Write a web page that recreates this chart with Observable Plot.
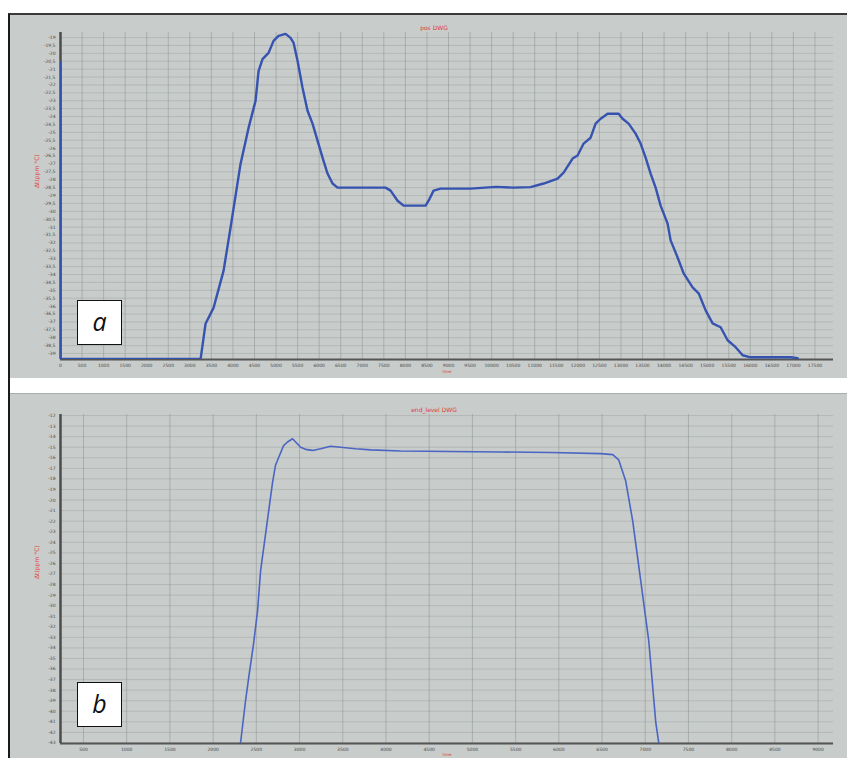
<!DOCTYPE html>
<html><head><meta charset="utf-8">
<script src="https://cdn.jsdelivr.net/npm/d3@7"></script>
<script src="https://cdn.jsdelivr.net/npm/@observablehq/plot@0.6"></script>
<style>
body{margin:0;background:#fff;width:847px;height:758px;position:relative;overflow:hidden;font-family:"DejaVu Sans",sans-serif}
#frame{position:absolute;left:8px;top:13px;width:839px;height:745px;border-left:2px solid #1a1a1a;border-top:2px solid #3a3a3a;box-sizing:border-box}
.panel{position:absolute;left:10px;width:837px;background:#c8cccb;box-sizing:border-box}
.panel svg{display:block}
#pa{top:15px;height:363px}
#pb{top:393px;height:365px;border-top:1px solid #a9adad}
.lbl{position:absolute;left:77px;width:45px;height:45px;background:#fff;border:1px solid #111;box-sizing:border-box;font:italic 25px "Open Sans",sans-serif;text-align:center;line-height:40px;color:#111}
</style></head>
<body>
<div id="frame"></div>
<div class="panel" id="pa"></div>
<div class="panel" id="pb"></div>
<div class="lbl" style="top:300px">a</div>
<div class="lbl" style="top:682px">b</div>
<script>
// ---- texts ----
const titleA = "pos DWG";
const titleB = "end_level DWG";
const yTitle = "Δt(ppm °C)";
const xTitle = "time";
const labelA = "a", labelB = "b";

// ---- panel a data ----
const topX = [0, 0, 3250, 3364, 3550, 3782, 3944, 4176, 4362, 4524, 4594, 4686, 4826, 4942, 5058, 5220, 5336, 5406, 5498, 5614, 5730, 5846, 5962, 6078, 6194, 6310, 6426, 7540, 7656, 7818, 7958, 8468, 8538, 8654, 8816, 9512, 10100, 10500, 10904, 11206, 11530, 11670, 11878, 11994, 12134, 12296, 12412, 12528, 12690, 12946, 13038, 13178, 13340, 13456, 13572, 13688, 13804, 13920, 14082, 14152, 14314, 14454, 14662, 14802, 14964, 15126, 15312, 15474, 15660, 15822, 16008, 16936, 17098];
const topY = [-20.58, -39.35, -39.35, -37.12, -36.11, -33.77, -31.04, -27.0, -24.72, -23.01, -21.12, -20.36, -19.97, -19.21, -18.89, -18.77, -19.02, -19.33, -20.47, -22.18, -23.63, -24.45, -25.53, -26.6, -27.61, -28.24, -28.5, -28.5, -28.69, -29.33, -29.64, -29.64, -29.33, -28.69, -28.56, -28.56, -28.45, -28.5, -28.47, -28.24, -27.93, -27.55, -26.66, -26.47, -25.71, -25.34, -24.45, -24.14, -23.82, -23.82, -24.14, -24.45, -25.08, -25.71, -26.6, -27.61, -28.5, -29.64, -30.78, -31.84, -32.92, -33.93, -34.81, -35.19, -36.27, -37.09, -37.34, -38.16, -38.6, -39.11, -39.24, -39.24, -39.3];
const topXTicks = d3.range(0, 17501, 500);
const topYTicks = d3.range(-39, -18.99, 0.5);
const topXDomain = [0, 17930];
const topYDomain = [-39.38, -18.68];

// ---- panel b data ----
const botX = [2317, 2375, 2410, 2468, 2514, 2549, 2630, 2688, 2722, 2757, 2815, 2861, 2919, 2977, 3012, 3070, 3151, 3244, 3359, 3475, 3649, 3823, 4170, 4749, 5327, 5906, 6485, 6624, 6693, 6774, 6855, 6947, 7040, 7121, 7156];
const botY = [-43, -39, -36.9, -33.6, -30.5, -26.7, -21.8, -18.3, -16.7, -16.0, -14.85, -14.5, -14.2, -14.7, -15.0, -15.2, -15.3, -15.15, -14.9, -15.0, -15.15, -15.25, -15.35, -15.4, -15.45, -15.5, -15.6, -15.7, -16.2, -18.2, -22.0, -27.6, -33.3, -41, -43];
const botXTicks = d3.range(500, 9001, 500);
const botYTicks = d3.range(-43, -11.99, 1);
const botXDomain = [234, 9178];
const botYDomain = [-43.05, -11.9];

const fmtComma = d => Number.isInteger(d) ? String(d) : String(d).replace(".", ",");

function panel({xs, ys, xTicks, yTicks, xDomain, yDomain, title, height, mt, mb, lineColor, lineWidth, yFmt, titleDy, yTitleDy, xTitleDy}) {
  const data = xs.map((x, i) => ({x, y: ys[i]}));
  return Plot.plot({
    width: 837, height,
    marginLeft: 50, marginRight: 14, marginTop: mt, marginBottom: mb,
    style: {background: "transparent", fontFamily: "DejaVu Sans", fontSize: "4.5px", color: "#4a4a4a"},
    x: {domain: xDomain, axis: null},
    y: {domain: yDomain, axis: null},
    marks: [
      Plot.gridX(xTicks, {stroke: "#8f9595", strokeOpacity: 0.55, strokeWidth: 1}),
      Plot.gridY(yTicks, {stroke: "#8f9595", strokeOpacity: 0.35, strokeWidth: 1}),
      Plot.axisX(xTicks, {label: null, tickSize: 0, tickPadding: 4, tickFormat: d => String(d), fontSize: 4.5, fill: "#4a4a4a"}),
      Plot.axisY(yTicks, {label: null, tickSize: 0, tickPadding: 5, tickFormat: yFmt, fontSize: 4.5, fill: "#4a4a4a"}),
      Plot.ruleX([xDomain[0]], {stroke: "#4d4d4d", strokeWidth: 2.5}),
      Plot.ruleY([yDomain[0]], {stroke: "#555", strokeWidth: 2}),
      Plot.line(data, {x: "x", y: "y", stroke: lineColor, strokeWidth: lineWidth, clip: true, strokeLinejoin: "round"}),
      Plot.text([title], {frameAnchor: "top", dx: -13, dy: titleDy, fill: "#e23a3a", fontSize: 6}),
      Plot.text([yTitle], {frameAnchor: "left", dx: -23, dy: yTitleDy, rotate: -90, fill: "#e23a3a", fontSize: 6}),
      Plot.text([xTitle], {frameAnchor: "bottom", dx: 0, dy: xTitleDy, fill: "#e23a3a", fontSize: 4})
    ]
  });
}

document.getElementById("pa").append(panel({
  xs: topX, ys: topY, xTicks: topXTicks, yTicks: topYTicks, xDomain: topXDomain, yDomain: topYDomain,
  title: titleA, height: 363, mt: 17, mb: 19, lineColor: "#3653b0", lineWidth: 2.4, yFmt: fmtComma, titleDy: -7, yTitleDy: -8, xTitleDy: 13
}));
document.getElementById("pb").append(panel({
  xs: botX, ys: botY, xTicks: botXTicks, yTicks: botYTicks, xDomain: botXDomain, yDomain: botYDomain,
  title: titleB, height: 364, mt: 20, mb: 15, lineColor: "#4a66c2", lineWidth: 1.6, yFmt: d => String(d), titleDy: -7, yTitleDy: 0, xTitleDy: 12.5
}));
document.querySelectorAll(".lbl")[0].textContent = labelA;
document.querySelectorAll(".lbl")[1].textContent = labelB;
</script>
</body></html>
